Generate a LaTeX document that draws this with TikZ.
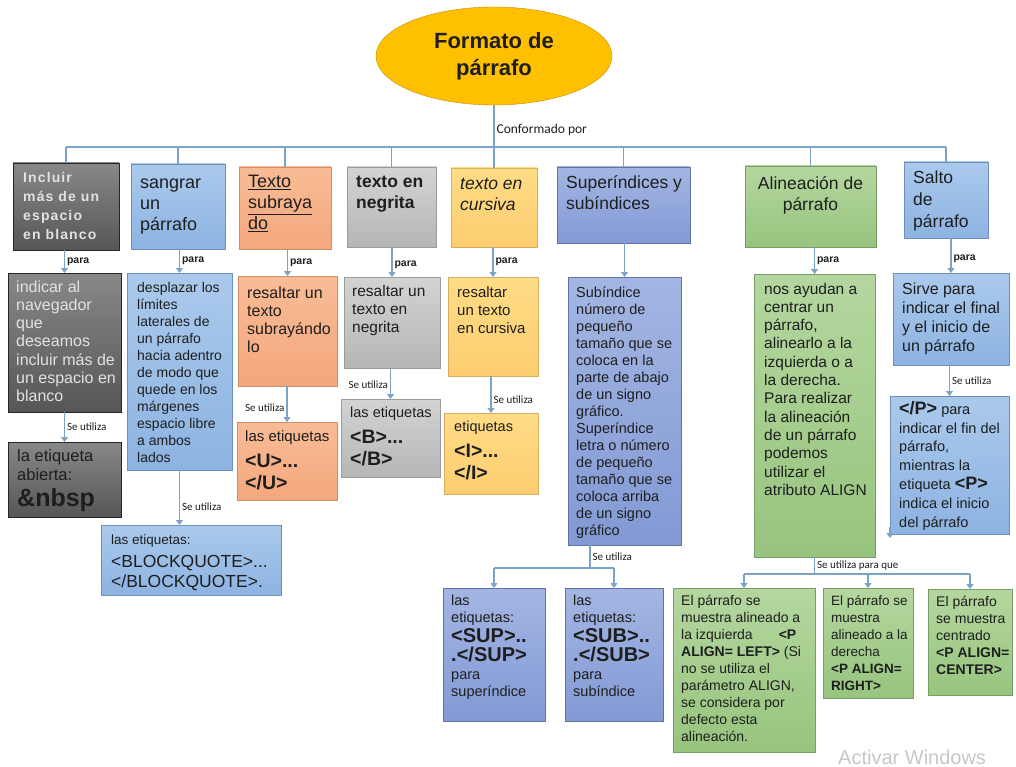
\documentclass[tikz,border=0pt]{standalone}
\usepackage{fontspec}
\setmainfont{Liberation Sans}
\newfontfamily\labfont{Carlito}
\usetikzlibrary{shapes.geometric,arrows.meta}

\newcommand{\setfs}[2]{\fontsize{#1}{#2}\selectfont}
\newcommand{\tg}[1]{{\bfseries\setfs{19.5}{24}#1}}

\definecolor{ink}{HTML}{1E1E1E}
\definecolor{light}{HTML}{E2E2E2}
\definecolor{conn}{HTML}{7BA3C8}
\definecolor{gold}{HTML}{FFC000}
\definecolor{dkT}{HTML}{888888}
\definecolor{dkB}{HTML}{565656}
\definecolor{lbT}{HTML}{AACAEC}
\definecolor{lbB}{HTML}{8DB3E2}
\definecolor{saT}{HTML}{F9BC95}
\definecolor{saB}{HTML}{F4A77D}
\definecolor{grT}{HTML}{D3D3D3}
\definecolor{grB}{HTML}{B6B6B6}
\definecolor{orT}{HTML}{FFDC86}
\definecolor{orB}{HTML}{FDCD70}
\definecolor{blT}{HTML}{A3B6E3}
\definecolor{blB}{HTML}{8299D4}
\definecolor{gnT}{HTML}{B4D79F}
\definecolor{gnB}{HTML}{97C47E}

\tikzset{
  bx/.style={draw, rectangle, anchor=north west, inner sep=0pt, outer sep=0pt, line width=0.8pt},
  darkbox/.style={bx, draw=black!85, top color=dkT, bottom color=dkB},
  lbluebox/.style={bx, draw=lbB!80!black, top color=lbT, bottom color=lbB},
  salmonbox/.style={bx, draw=saB!85!black, top color=saT, bottom color=saB},
  graybox/.style={bx, draw=grB!85!black, top color=grT, bottom color=grB},
  orangebox/.style={bx, draw=orB!85!black, top color=orT, bottom color=orB},
  bluebox/.style={bx, draw=blB!75!black, top color=blT, bottom color=blB},
  greenbox/.style={bx, draw=gnB!80!black, top color=gnT, bottom color=gnB},
  tx/.style={anchor=north west, align=left, inner sep=0pt, text=ink},
  ln/.style={draw=conn, line width=1.1pt},
  arr/.style={ln, -{Triangle[length=5pt,width=7pt]}},
  para/.style={font=\bfseries\setfs{10.5}{12}, text=ink, inner sep=2pt},
  seut/.style={font=\labfont\setfs{11}{13}, text=ink, inner sep=2pt}
}

\begin{document}
\begin{tikzpicture}[x=1pt,y=-1pt]
\useasboundingbox[fill=white] (0,0) rectangle (1016,767);

% titulo
\node[ellipse, draw=gold!75!black, fill=gold, minimum width=236pt, minimum height=98pt,
      align=center, text=ink, font=\bfseries\setfs{22}{27}] (ell) at (494,56) {Formato de\\párrafo};
\coordinate (bus) at (0,147);

% primera fila
\node[darkbox, minimum width=106pt, minimum height=87pt] (a1) at (13,163) {};
\node[tx, text=light, font=\bfseries\setfs{14}{19}\addfontfeatures{LetterSpace=8}] (a1t)
  at ([xshift=10pt,yshift=-6pt]a1.north west) {\strut Incluir\\más de un\\espacio\\en blanco};
\node[lbluebox, minimum width=94pt, minimum height=85pt] (b1) at (131,164) {};
\node[tx, font=\setfs{18}{21}] (b1t) at ([xshift=9pt,yshift=-10pt]b1.north west) {\strut sangrar\\un\\párrafo};
\node[salmonbox, minimum width=92pt, minimum height=82pt] (c1) at (239,167) {};
\node[tx, font=\setfs{18}{21}] (c1t) at ([xshift=9pt,yshift=-6pt]c1.north west)
  {\strut\underline{Texto}\\\underline{subraya}\\\underline{do}};
\node[graybox, minimum width=89pt, minimum height=80pt] (d1) at (347,167) {};
\node[tx, font=\bfseries\setfs{17.5}{21}] (d1t) at ([xshift=9pt,yshift=-6pt]d1.north west) {\strut texto en\\negrita};
\node[orangebox, minimum width=86pt, minimum height=79pt] (e1) at (451,168) {};
\node[tx, font=\itshape\setfs{17.5}{21}] (e1t) at ([xshift=9pt,yshift=-7pt]e1.north west) {\strut texto en\\cursiva};
\node[bluebox, minimum width=133pt, minimum height=76pt] (f1) at (557,167) {};
\node[tx, font=\setfs{17.5}{21}] (f1t) at ([xshift=9pt,yshift=-7pt]f1.north west) {\strut Superíndices y\\subíndices};
\node[greenbox, minimum width=131pt, minimum height=81pt] (g1) at (745,166) {};
\node[tx, anchor=north, align=center, font=\setfs{17.5}{21}] (g1t) at ([yshift=-9pt]g1.north) {\strut Alineación de\\párrafo};
\node[lbluebox, minimum width=84pt, minimum height=76pt] (h1) at (904,162) {};
\node[tx, font=\setfs{17.5}{22}] (h1t) at ([xshift=9pt,yshift=-6pt]h1.north west) {\strut Salto\\de\\párrafo};

% segunda fila
\node[darkbox, minimum width=113pt, minimum height=139pt] (a2) at (8,273) {};
\node[tx, text=light, font=\setfs{16}{18.3}] (a2t) at ([xshift=8pt,yshift=-6pt]a2.north west)
  {\strut indicar al\\navegador\\que\\deseamos\\incluir más de\\un espacio en\\blanco};
\node[lbluebox, minimum width=105pt, minimum height=197pt] (b2) at (127,273) {};
\node[tx, font=\setfs{14}{17}] (b2t) at ([xshift=10pt,yshift=-7pt]b2.north west)
  {\strut desplazar los\\límites\\laterales de\\un párrafo\\hacia adentro\\de modo que\\quede en los\\márgenes\\espacio libre\\a ambos\\lados};
\node[salmonbox, minimum width=99pt, minimum height=110pt] (c2) at (238,276) {};
\node[tx, font=\setfs{16}{18.3}] (c2t) at ([xshift=9pt,yshift=-9pt]c2.north west)
  {\strut resaltar un\\texto\\subrayándo\\lo};
\node[graybox, minimum width=96pt, minimum height=91pt] (d2) at (344,277) {};
\node[tx, font=\setfs{15.5}{18.3}] (d2t) at ([xshift=8pt,yshift=-6pt]d2.north west)
  {\strut resaltar un\\texto en\\negrita};
\node[orangebox, minimum width=90pt, minimum height=99pt] (e2) at (448,277) {};
\node[tx, font=\setfs{15}{18.3}] (e2t) at ([xshift=9pt,yshift=-7pt]e2.north west)
  {\strut resaltar\\un texto\\en cursiva};
\node[bluebox, minimum width=113pt, minimum height=268pt] (f2) at (568,277) {};
\node[tx, font=\setfs{14.5}{17}] (f2t) at ([xshift=8pt,yshift=-8pt]f2.north west)
  {\strut Subíndice\\número de\\pequeño\\tamaño que se\\coloca en la\\parte de abajo\\de un signo\\gráfico.\\Superíndice\\letra o número\\de pequeño\\tamaño que se\\coloca arriba\\de un signo\\gráfico};
\node[greenbox, minimum width=121pt, minimum height=283pt] (g2) at (754,274) {};
\node[tx, font=\setfs{15.5}{18.3}] (g2t) at ([xshift=10pt,yshift=-7pt]g2.north west)
  {\strut nos ayudan a\\centrar un\\párrafo,\\alinearlo a la\\izquierda o a\\la derecha.\\Para realizar\\la alineación\\de un párrafo\\podemos\\utilizar el\\atributo ALIGN};
\node[lbluebox, minimum width=116pt, minimum height=92pt] (h2) at (893,273) {};
\node[tx, font=\setfs{16}{19}] (h2t) at ([xshift=9pt,yshift=-8pt]h2.north west)
  {\strut Sirve para\\indicar el final\\y el inicio de\\un párrafo};

% tercera fila
\node[darkbox, minimum width=113pt, minimum height=75pt] (a3) at (8,442) {};
\node[tx, font=\setfs{16.5}{19}] (a3t) at ([xshift=9pt,yshift=-6pt]a3.north west)
  {\strut la etiqueta\\abierta:\\[7pt]{\bfseries\setfs{25}{28}\&nbsp}};
\node[lbluebox, minimum width=180pt, minimum height=70pt] (b3) at (101,525) {};
\node[tx, font=\setfs{13.5}{16}] (b3t) at ([xshift=10pt,yshift=-8pt]b3.north west)
  {\strut las etiquetas:\\[5pt]{\setfs{17.5}{22}<BLOCKQUOTE>...}\\[4pt]{\setfs{17.5}{22}</BLOCKQUOTE>.}};
\node[salmonbox, minimum width=100pt, minimum height=78pt] (c3) at (237,422) {};
\node[tx, font=\setfs{15}{18}] (c3t) at ([xshift=8pt,yshift=-7pt]c3.north west)
  {\strut las etiquetas\\[6pt]\tg{<U>...}\\[4pt]\tg{</U>}};
\node[graybox, minimum width=99pt, minimum height=78pt] (d3) at (341,399) {};
\node[tx, font=\setfs{14.5}{18}] (d3t) at ([xshift=9pt,yshift=-6pt]d3.north west)
  {\strut las etiquetas\\[6pt]\tg{<B>...}\\[4pt]\tg{</B>}};
\node[orangebox, minimum width=94pt, minimum height=81pt] (e3) at (444,413) {};
\node[tx, font=\setfs{14.5}{18}] (e3t) at ([xshift=10pt,yshift=-6pt]e3.north west)
  {\strut etiquetas\\[6pt]\tg{<I>...}\\[4pt]\tg{</I>}};
\node[lbluebox, minimum width=119pt, minimum height=138pt] (h3) at (890,396) {};
\node[tx, font=\setfs{14.5}{18.8}] (h3t) at ([xshift=9pt,yshift=-5pt]h3.north west)
  {\strut{\bfseries\setfs{18}{20}</P>} para\\indicar el fin del\\párrafo,\\mientras la\\etiqueta {\bfseries\setfs{18}{20}<P>}\\indica el inicio\\del párrafo};

% cuarta fila
\node[bluebox, minimum width=102pt, minimum height=133pt] (f3a) at (443,588) {};
\node[tx, font=\setfs{14.5}{17}] (f3at) at ([xshift=8pt,yshift=-5pt]f3a.north west)
  {\strut las\\etiquetas:\\[3pt]{\bfseries\setfs{20}{22}<SUP>..}\\[2pt]{\bfseries\setfs{20}{22}.</SUP>}\\[1pt]para\\superíndice};
\node[bluebox, minimum width=98pt, minimum height=133pt] (f3b) at (565,588) {};
\node[tx, font=\setfs{14.5}{17}] (f3bt) at ([xshift=8pt,yshift=-5pt]f3b.north west)
  {\strut las\\etiquetas:\\[3pt]{\bfseries\setfs{20}{22}<SUB>..}\\[2pt]{\bfseries\setfs{20}{22}.</SUB>}\\[1pt]para\\subíndice};
\node[greenbox, minimum width=142pt, minimum height=164pt] (g3a) at (673,588) {};
\node[tx, font=\setfs{14}{17}] (g3at) at ([xshift=8pt,yshift=-5pt]g3a.north west)
  {\strut El párrafo se\\muestra alineado a\\la izquierda\hspace{26pt}\textbf{<P}\\\textbf{ALIGN= LEFT>} (Si\\no se utiliza el\\parámetro ALIGN,\\se considera por\\defecto esta\\alineación.};
\node[greenbox, minimum width=90pt, minimum height=110pt] (g3b) at (823,588) {};
\node[tx, font=\setfs{13.5}{17}] (g3bt) at ([xshift=8pt,yshift=-5pt]g3b.north west)
  {\strut El párrafo se\\muestra\\alineado a la\\derecha\\\textbf{<P ALIGN=}\\\textbf{RIGHT>}};
\node[greenbox, minimum width=84pt, minimum height=106pt] (g3c) at (928,589) {};
\node[tx, font=\setfs{14}{17}] (g3ct) at ([xshift=8pt,yshift=-5pt]g3c.north west)
  {\strut El párrafo\\se muestra\\centrado\\\textbf{<P ALIGN=}\\\textbf{CENTER>}};

% conectores
\draw[ln] (ell.south) -- node[seut, right, pos=.6, font=\labfont\setfs{13.5}{15}] (conf) {Conformado por} (ell.south |- bus);
\draw[ln] (a1.north |- bus) -- (h1.north |- bus);
\foreach \n in {a1,b1,c1,d1,e1,f1,g1,h1}
  \draw[ln] (\n.north |- bus) -- (\n.north);

\draw[arr] (a1.south -| a2.north) -- node[para, right] (pa) {para} (a2.north);
\draw[arr] (b1.south -| b2.north) -- node[para, right] (pb) {para} (b2.north);
\draw[arr] (c1.south -| c2.north) -- node[para, right] (pc) {para} (c2.north);
\draw[arr] (d1.south -| d2.north) -- node[para, right, pos=.6] (pd) {para} (d2.north);
\draw[arr] (e1.south -| e2.north) -- node[para, right] (pe) {para} (e2.north);
\draw[arr] (f1.south -| f2.north) -- (f2.north);
\draw[arr] (g1.south -| g2.north) -- node[para, right] (pg) {para} (g2.north);
\draw[arr] (h1.south -| h2.north) -- node[para, right, pos=.6] (ph) {para} (h2.north);

\draw[arr] (a2.south -| a3.north) -- node[seut, right] (ua) {Se utiliza} (a3.north);
\draw[arr] (b2.south) -- node[seut, right, pos=.67] (ub) {Se utiliza} (b2.south |- b3.north);
\draw[arr] (c2.south -| c3.north) -- node[seut, left, pos=.6] (uc) {Se utiliza} (c3.north);
\draw[arr] (d2.south -| d3.north) -- node[seut, left, pos=.55] (ud) {Se utiliza} (d3.north);
\draw[arr] (e2.south -| e3.north) -- node[seut, right, pos=.65] (ue) {Se utiliza} (e3.north);
\draw[arr] (h2.south -| h3.north) -- node[seut, right] (uh) {Se utiliza} (h3.north);
\draw[arr] ([yshift=7pt]h3.south west) -- ([yshift=-4pt]h3.south west);

\coordinate (fj) at (590,568);
\draw[ln] (f2.south -| fj) -- node[seut, right] (uf) {Se utiliza} (fj);
\draw[ln] (fj -| f3a.north) -- (fj -| f3b.north);
\draw[arr] (fj -| f3a.north) -- (f3a.north);
\draw[arr] (fj -| f3b.north) -- (f3b.north);

\coordinate (gj) at (0,574);
\draw[ln] (g2.south) -- node[seut, right] (ug) {Se utiliza para que} (g2.south |- gj);
\draw[ln] (gj -| g3a.north) -- (gj -| g3c.north);
\draw[arr] (gj -| g3a.north) -- (g3a.north);
\draw[arr] (gj -| g3b.north) -- (g3b.north);
\draw[arr] (gj -| g3c.north) -- (g3c.north);

\node[anchor=base west, text=black!22, font=\setfs{20}{24}, inner sep=0pt] (wm) at (838,764) {Activar Windows};
\end{tikzpicture}
\end{document}
